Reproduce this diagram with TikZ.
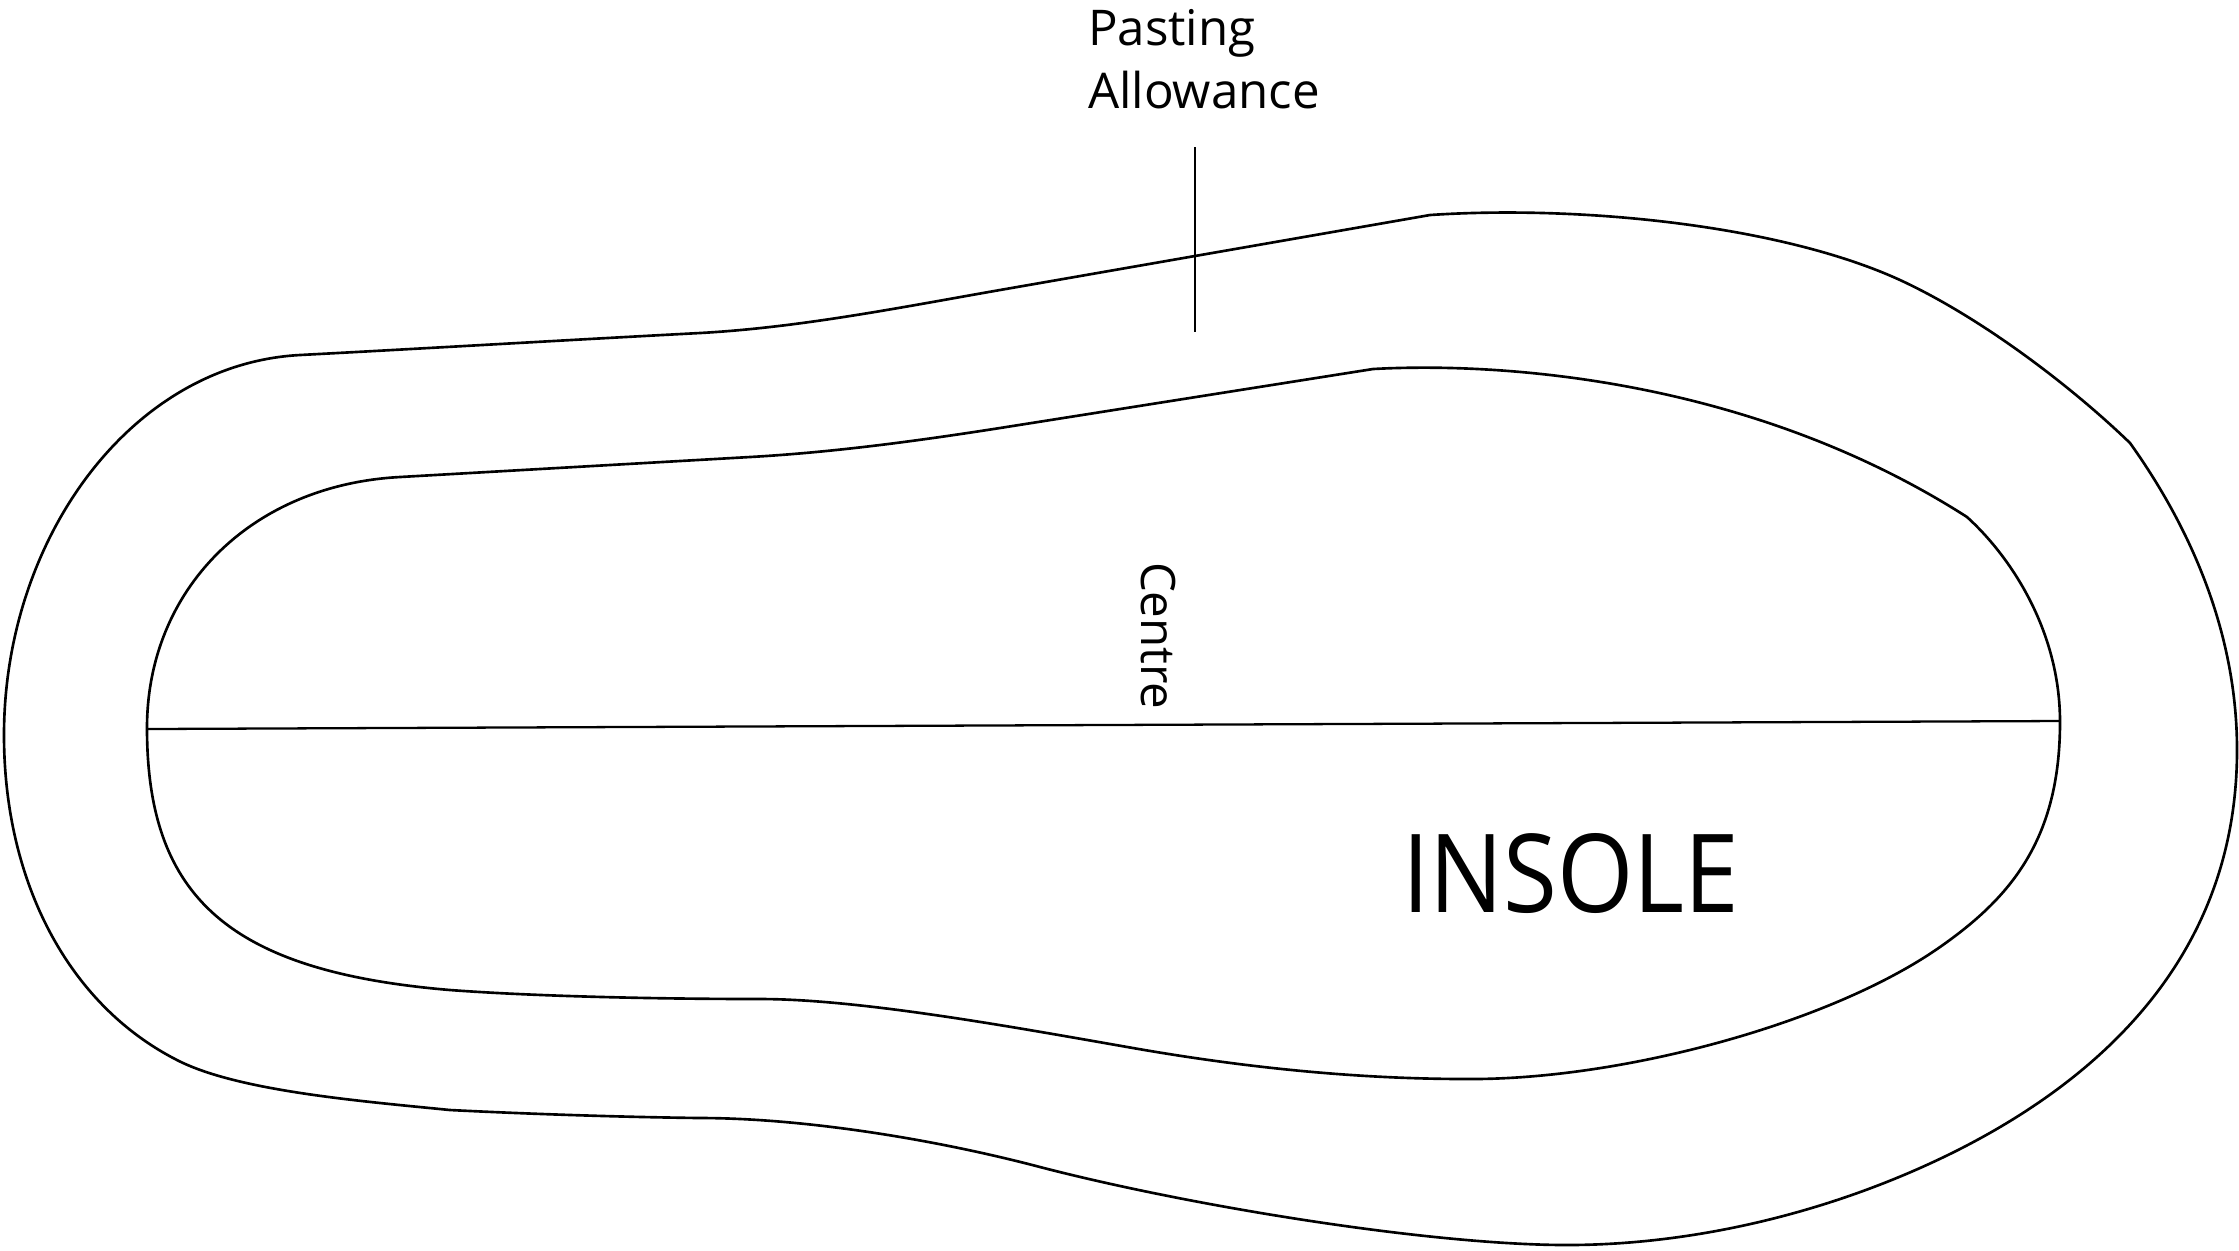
\documentclass[tikz,border=0pt]{standalone}
\usepackage{fontspec}
\setmainfont{Open Sans}
\begin{document}
\begin{tikzpicture}[x=0.01cm,y=-0.01cm,
  outline/.style={line width=0.75pt, black, line join=round},
  guide/.style={line width=0.65pt, black},
  lbl/.style={inner sep=0pt, outer sep=0pt, font=\fontsize{14}{17}\selectfont},
  bigl/.style={inner sep=0pt, outer sep=0pt, font=\fontsize{31}{36}\selectfont}]
\useasboundingbox (0,0) rectangle (2239,1250);
% outer contour (pasting allowance)
\draw[outline] (4,735)
  .. controls (4,540) and (130,364) .. (300,355)
  .. controls (433,348) and (567,340) .. (700,333)
  .. controls (800,327.5) and (900,307.5) .. (1000,290)
  -- (1430,215)
  .. controls (1580,205) and (1780,225) .. (1900,280)
  .. controls (1980,317) and (2070,385) .. (2130,443)
  .. controls (2180,513) and (2237,620) .. (2237,750)
  .. controls (2237,950) and (2108,1074) .. (1958,1150)
  .. controls (1837,1211) and (1697,1245) .. (1567,1245)
  .. controls (1430,1245) and (1190,1206) .. (1040,1167)
  .. controls (930,1138) and (800,1118) .. (700,1118)
  .. controls (620,1117) and (530,1114) .. (450,1110)
  .. controls (360,1101) and (237,1091) .. (177,1060)
  .. controls (67,1004) and (4,880) .. cycle;
% inner contour (insole)
\draw[outline] (147,728)
  .. controls (147,590) and (250,485) .. (400,477)
  -- (750,457)
  .. controls (833,452.3) and (917,441) .. (1000,428)
  -- (1373,369)
  .. controls (1500,362) and (1750,378) .. (1967,517)
  .. controls (2010,556) and (2060,630) .. (2060,722)
  .. controls (2060,840) and (2010,898) .. (1940,947)
  .. controls (1830,1024) and (1620,1080) .. (1467,1079)
  .. controls (1380,1079) and (1270,1072) .. (1133,1048)
  .. controls (1013,1027) and (860,999) .. (760,999)
  .. controls (650,999) and (530,996) .. (450,990)
  .. controls (230,971.5) and (147,898) .. cycle;
% centre line
\coordinate (cl1) at (147,729);
\coordinate (cl2) at (2060,721);
\draw[guide] (cl1) -- (cl2);
% pasting allowance marker
\coordinate (pa1) at (1195,147);
\coordinate (pa2) at (1195,332);
\draw[guide] (pa1) -- (pa2);
% labels
\node[lbl, anchor=base west] (pasting) at (1088,45) {Pasting};
\node[lbl, anchor=base west] (allow) at (1088,108) {Allowance};
\node[lbl, font=\fontsize{13.5}{16}\selectfont, anchor=base west, rotate=-90] (centre) at (1141,562) {Centre};
\node[bigl, anchor=base west] (insole) at (1402,912) {\scalebox{0.9}[1]{INSOLE}};
\end{tikzpicture}
\end{document}
